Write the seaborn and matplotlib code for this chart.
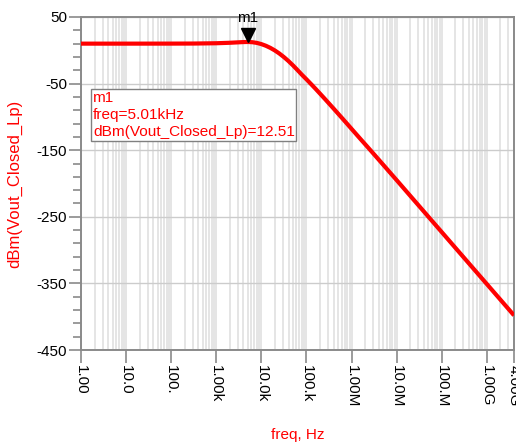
import matplotlib
matplotlib.use("Agg")
import matplotlib.pyplot as plt
import matplotlib.transforms as mtransforms
from matplotlib.ticker import FixedLocator, NullFormatter
import pandas as pd
import seaborn as sns

# Closed-loop low-pass response, read at points along the sweep
freq_hz = [1, 10, 100, 316, 1000, 2000, 3160, 3980, 5010, 6310, 7940,
           10000, 12590, 15850, 19950, 25120, 31620, 39810, 50120, 63100,
           79430, 100000, 125900, 158500, 251200, 398100, 631000, 1000000,
           1585000, 2512000, 3981000, 10000000, 31620000, 100000000,
           316200000, 1000000000, 3162000000, 4000000000]
dbm_vout = [10.0, 10.0, 10.05, 10.15, 10.6, 11.3, 12.0, 12.35, 12.51, 12.15,
            11.1, 9.3, 6.8, 3.6, -0.3, -4.9, -10.2, -16.1, -22.6, -29.6,
            -36.8, -43.6, -50.6, -57.7, -72.4, -87.4, -102.6, -118.0,
            -133.4, -148.6, -164.0, -195.0, -234.0, -273.0, -312.0, -351.0,
            -390.0, -398.0]

x_tick_values = [1, 10, 100, 1e3, 1e4, 1e5, 1e6, 1e7, 1e8, 1e9, 4e9]
x_tick_labels = ["1.00", "10.0", "100.", "1.00k", "10.0k", "100.k",
                 "1.00M", "10.0M", "100.M", "1.00G", "4.00G"]
y_tick_values = [50, -50, -150, -250, -350, -450]

marker_name = "m1"
marker_freq_khz = 5.01
marker_dbm = 12.51
trace_name = "dBm(Vout_Closed_Lp)"

sns.set_theme(style="white")
plt.rcParams["font.family"] = ["Liberation Sans", "DejaVu Sans"]

W, H = 516, 443
fig = plt.figure(figsize=(W / 100, H / 100), dpi=100)
ax = fig.add_axes([81 / W, 1 - 350 / H, (514 - 81) / W, (350 - 17) / H])

df = pd.DataFrame({"freq": freq_hz, "dbm": dbm_vout})
sns.lineplot(data=df, x="freq", y="dbm", ax=ax, color="#ff0000",
             linewidth=3.0, zorder=5, solid_capstyle="butt")

ax.set_xscale("log")
ax.set_xlim(1, 4e9)
ax.set_ylim(-450, 50)

# x axis: decade ticks plus 2..9 minor grid
minor_x = [m * 10 ** d for d in range(0, 10) for m in range(2, 10)
           if m * 10 ** d < 4e9]
ax.xaxis.set_major_locator(FixedLocator(x_tick_values))
ax.xaxis.set_minor_locator(FixedLocator(minor_x))
ax.xaxis.set_minor_formatter(NullFormatter())
ax.set_xticklabels(x_tick_labels, rotation=-90, fontsize=11)

# y axis: majors every 100, minors every 20
ax.yaxis.set_major_locator(FixedLocator(y_tick_values))
ax.yaxis.set_minor_locator(FixedLocator(list(range(-450, 51, 20))))
ax.set_yticklabels([str(v) for v in y_tick_values], fontsize=11)

ax.tick_params(axis="x", which="major", direction="out", length=9,
               width=1.1, color="#808080", pad=2, labelcolor="black")
ax.tick_params(axis="x", which="minor", length=0)
ax.tick_params(axis="y", which="major", direction="out", length=9,
               width=1.1, color="#808080", pad=1, labelcolor="black")
ax.tick_params(axis="y", which="minor", direction="out", length=6,
               width=1.1, color="#808080")
ax.tick_params(left=True, bottom=True, which="both")

ax.xaxis.grid(True, which="both", color="#e0e0e0", linewidth=1.2)
ax.yaxis.grid(True, which="major", color="#cccccc", linewidth=1.0)
ax.yaxis.grid(False, which="minor")
ax.set_axisbelow(True)

for side in ["left", "right", "top", "bottom"]:
    ax.spines[side].set_visible(True)
    ax.spines[side].set_color("#8a8a8a")
    ax.spines[side].set_linewidth(1.4)

ax.set_xlabel("freq, Hz", color="#ff0000", fontsize=11)
ax.xaxis.label.set_va("center")
ax.xaxis.set_label_coords(0.5, (350 - 435) / 333)
ax.set_ylabel(trace_name, color="#ff0000", fontsize=12)
ax.yaxis.label.set_va("center")
ax.yaxis.set_label_coords((15 - 81) / 433, (350 - 184) / 333)

# marker m1: triangle whose tip sits on the trace
marker_freq = marker_freq_khz * 1e3
tri = mtransforms.offset_copy(ax.transData, fig=fig, x=0, y=7, units="dots")
ax.plot([marker_freq], [marker_dbm], marker="v", markersize=10.5,
        color="black", linestyle="none", transform=tri, zorder=6,
        clip_on=False)
ax.annotate(marker_name, xy=(marker_freq, marker_dbm), xytext=(0, 24),
            textcoords="offset pixels", ha="center", va="center",
            fontsize=11, color="black", annotation_clip=False, zorder=7)

# marker readout box
readout = (f"{marker_name}\nfreq={marker_freq_khz:.2f}kHz\n"
           f"{trace_name}={marker_dbm:.2f}")
ax.text((93 - 81) / 433, (350 - 91) / 333, readout, transform=ax.transAxes,
        ha="left", va="top", color="#ff0000", fontsize=11.1, linespacing=1.28,
        zorder=8,
        bbox=dict(boxstyle="square,pad=0.1", facecolor="white",
                  edgecolor="#808080", linewidth=1.0))

fig.savefig("out.png", dpi=100)
